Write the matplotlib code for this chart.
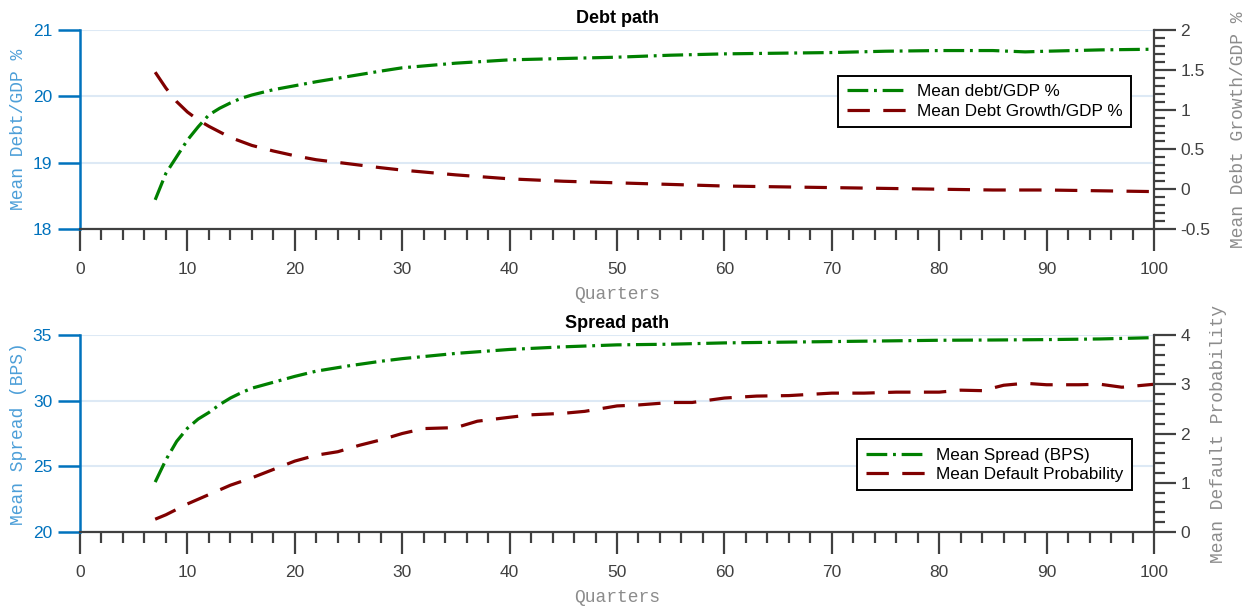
import numpy as np
import matplotlib
matplotlib.use("Agg")
import matplotlib.pyplot as plt
from matplotlib.ticker import MultipleLocator, FuncFormatter

# ---- data ----
debt_x = [7, 8, 9, 10, 11, 12, 13, 14, 15, 16, 18, 20, 22, 25, 28, 30, 35, 40, 45, 50,
          55, 60, 65, 70, 75, 80, 85, 88, 90, 95, 100]
debt_gdp = [18.44, 18.84, 19.09, 19.34, 19.54, 19.72, 19.82, 19.90, 19.97, 20.02, 20.10,
            20.16, 20.22, 20.30, 20.38, 20.43, 20.50, 20.55, 20.57, 20.59, 20.62, 20.64,
            20.65, 20.66, 20.68, 20.69, 20.69, 20.67, 20.68, 20.70, 20.71]

growth_x = [7, 8, 9, 10, 11, 12, 13, 14, 15, 16, 18, 20, 22, 25, 28, 30, 35, 40, 45, 50,
            55, 60, 65, 70, 75, 80, 85, 90, 95, 100]
debt_growth = [1.47, 1.27, 1.10, 0.97, 0.87, 0.79, 0.72, 0.65, 0.60, 0.55, 0.48, 0.42,
               0.37, 0.32, 0.27, 0.24, 0.18, 0.13, 0.10, 0.08, 0.06, 0.04, 0.03, 0.02,
               0.01, 0.00, -0.01, -0.01, -0.02, -0.03]

spread_x = [7, 8, 9, 10, 11, 12, 13, 14, 15, 16, 18, 20, 22, 25, 28, 30, 35, 40, 45, 50,
            55, 60, 65, 70, 75, 80, 85, 90, 95, 100]
spread = [23.8, 25.5, 26.9, 27.9, 28.6, 29.1, 29.7, 30.2, 30.6, 30.95, 31.4, 31.85, 32.25,
          32.65, 33.0, 33.2, 33.6, 33.9, 34.1, 34.25, 34.3, 34.4, 34.45, 34.5, 34.55, 34.6,
          34.62, 34.65, 34.7, 34.8]

prob_x = [7, 8, 10, 12, 14, 16, 18, 20, 22, 24, 26, 28, 30, 32, 35, 37, 40, 42, 45, 47, 50,
          52, 55, 57, 60, 63, 66, 70, 73, 76, 80, 82, 84, 86, 88, 90, 93, 95, 97, 100]
default_prob = [0.26, 0.35, 0.57, 0.76, 0.95, 1.10, 1.27, 1.44, 1.56, 1.63, 1.76, 1.87, 2.00,
                2.10, 2.12, 2.25, 2.33, 2.38, 2.41, 2.45, 2.56, 2.58, 2.63, 2.63, 2.72, 2.76,
                2.77, 2.82, 2.82, 2.84, 2.84, 2.88, 2.87, 2.98, 3.02, 2.99, 2.99, 3.00, 2.94,
                3.00]

# ---- style ----
GREEN = "#008000"
RED = "#800000"
BLUE = "#0072BD"
BLUE_LABEL = "#4d9fd8"
DARK = "#404040"
GREY_LABEL = "#8c8c8c"
GRID = "#dde9f5"
SANS = "Liberation Sans"
MONO = "Liberation Mono"

plt.rcParams['font.family'] = [SANS, 'DejaVu Sans']

fig = plt.figure(figsize=(12.48, 6.12), dpi=100)


def style_panel(ax, ax2, title, ylims, y2lims, y2minor, ylab, y2lab):
    ax.set_xlim(0, 100)
    ax.set_ylim(*ylims)
    ax2.set_ylim(*y2lims)
    ax.xaxis.set_major_locator(MultipleLocator(10))
    ax.xaxis.set_minor_locator(MultipleLocator(2))
    ax.tick_params(axis='x', which='major', direction='out', length=16, width=1.6,
                   colors=DARK, labelsize=12.5, pad=8)
    ax.tick_params(axis='x', which='minor', direction='out', length=8, width=1.6, colors=DARK)
    ax.tick_params(axis='y', which='major', direction='out', length=16, width=1.8,
                   colors=BLUE, labelsize=12.5, pad=4)
    ax2.tick_params(axis='y', which='major', direction='out', length=16, width=1.6,
                    colors=DARK, labelsize=12.5, pad=3)
    ax2.tick_params(axis='y', which='minor', direction='out', length=8, width=1.6, colors=DARK)
    ax2.yaxis.set_minor_locator(MultipleLocator(y2minor))
    ax2.yaxis.set_major_formatter(FuncFormatter(lambda v, p: "%g" % v))
    ax.yaxis.set_major_formatter(FuncFormatter(lambda v, p: "%g" % v))

    for s in ['top', 'right']:
        ax.spines[s].set_visible(False)
    for s in ['top', 'left', 'bottom']:
        ax2.spines[s].set_visible(False)
    ax.spines['left'].set_color(BLUE)
    ax.spines['left'].set_linewidth(1.8)
    ax.spines['bottom'].set_color(DARK)
    ax.spines['bottom'].set_linewidth(1.6)
    ax2.spines['right'].set_color(DARK)
    ax2.spines['right'].set_linewidth(1.6)

    ax.yaxis.grid(True, color=GRID, linewidth=1.5)
    ax.set_axisbelow(True)

    ax.set_title(title, fontsize=13, fontweight='bold', pad=5)
    ax.set_xlabel("Quarters", family=MONO, fontsize=13, color=GREY_LABEL, labelpad=6)
    ax.set_ylabel(ylab, family=MONO, fontsize=13, color=BLUE_LABEL, labelpad=4)
    ax2.set_ylabel(y2lab, family=MONO, fontsize=13, color=GREY_LABEL, labelpad=14)


dashdot = (6.5, 1.8, 0.9, 1.8)
dashed = (7, 4.2)
LW = 2.3


def add_legend(ax, handles, anchor):
    leg = ax.legend(handles, [h.get_label() for h in handles], loc='upper left',
                    bbox_to_anchor=anchor, fontsize=12.3, fancybox=False,
                    edgecolor='black', framealpha=1, handlelength=3.6, handletextpad=0.5,
                    borderpad=0.5, labelspacing=0.25, borderaxespad=0)
    leg.get_frame().set_linewidth(1.4)
    return leg


# ---- Debt path ----
ax1 = fig.add_axes([0.0641, 0.6258, 0.8606, 0.3252])
ax1b = ax1.twinx()
l1, = ax1.plot(debt_x, debt_gdp, color=GREEN, lw=LW, linestyle=(0, dashdot),
               label="Mean debt/GDP %")
l2, = ax1b.plot(growth_x, debt_growth, color=RED, lw=LW, linestyle=(0, dashed),
                label="Mean Debt Growth/GDP %")
style_panel(ax1, ax1b, "Debt path", (18, 21), (-0.5, 2), 0.1,
            "Mean Debt/GDP %", "Mean Debt Growth/GDP %")
ax1.yaxis.set_major_locator(MultipleLocator(1))
ax1b.yaxis.set_major_locator(MultipleLocator(0.5))
add_legend(ax1b, [l1, l2], (0.706, 0.77))

# ---- Spread path ----
ax2 = fig.add_axes([0.0641, 0.1307, 0.8606, 0.3219])
ax2b = ax2.twinx()
l3, = ax2.plot(spread_x, spread, color=GREEN, lw=LW, linestyle=(0, dashdot),
               label="Mean Spread (BPS)")
l4, = ax2b.plot(prob_x, default_prob, color=RED, lw=LW, linestyle=(0, dashed),
                label="Mean Default Probability")
style_panel(ax2, ax2b, "Spread path", (20, 35), (0, 4), 0.2,
            "Mean Spread (BPS)", "Mean Default Probability")
ax2.yaxis.set_major_locator(MultipleLocator(5))
ax2b.yaxis.set_major_locator(MultipleLocator(1))
add_legend(ax2b, [l3, l4], (0.7235, 0.472))

fig.savefig("out.png", dpi=100)
